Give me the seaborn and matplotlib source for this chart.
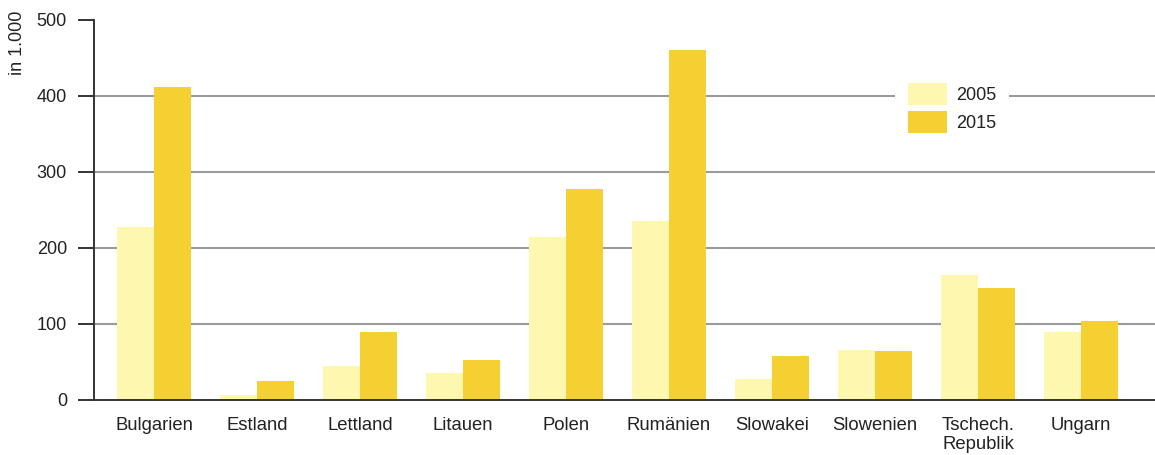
import matplotlib
matplotlib.use("Agg")
import matplotlib.pyplot as plt
import seaborn as sns
import pandas as pd

countries = ["Bulgarien", "Estland", "Lettland", "Litauen", "Polen", "Rumänien",
             "Slowakei", "Slowenien", "Tschech.\nRepublik", "Ungarn"]
values_2005 = [228, 7, 45, 35, 215, 236, 27, 66, 164, 89]
values_2015 = [412, 25, 89, 52, 277, 461, 58, 64, 148, 104]
years = ["2005", "2015"]
yticks = [0, 100, 200, 300, 400, 500]
ylabel = "in 1.000"

colors = ["#FEF7B0", "#F4D033"]

df = pd.DataFrame({
    "Land": countries * 2,
    "Wert": values_2005 + values_2015,
    "Jahr": [years[0]] * len(countries) + [years[1]] * len(countries),
})

sns.set_style("white")
plt.rcParams["font.family"] = ["Liberation Sans", "DejaVu Sans"]

fig = plt.figure(figsize=(11.55, 4.55), dpi=100)
ax = fig.add_axes([94 / 1155, 1 - 400 / 455, 1 - 94 / 1155, 380 / 455])

sns.barplot(data=df, x="Land", y="Wert", hue="Jahr", palette=colors,
            width=0.72, saturation=1, errorbar=None, ax=ax, zorder=2,
            linewidth=0)

ax.set_ylim(0, 500)
ax.set_xlim(-0.583, 9.718)
ax.set_yticks(yticks)
ax.set_yticklabels([str(v) for v in yticks], fontsize=13, color="#222222")
ax.set_xlabel("")
ax.set_ylabel("")

ax.yaxis.grid(True, color="#9a9a9a", linewidth=1.5, zorder=0)
ax.set_axisbelow(True)
gl = ax.get_ygridlines()
gl[-1].set_visible(False)
gl[0].set_visible(False)

for s in ["top", "right"]:
    ax.spines[s].set_visible(False)
ax.spines["left"].set_color("#333333")
ax.spines["left"].set_linewidth(1.4)
ax.spines["bottom"].set_color("#333333")
ax.spines["bottom"].set_linewidth(1.4)
ax.spines["bottom"].set_zorder(3)

ax.tick_params(axis="y", direction="out", length=11.5, width=1.4,
               color="#333333", pad=8, left=True)
ax.tick_params(axis="x", length=0, pad=12, labelsize=13.3, labelcolor="#222222")
for lab in ax.get_xticklabels():
    lab.set_linespacing(1.15)

fig.text(17 / 1155, 1 - 11 / 455, ylabel, rotation=90, ha="center", va="top",
         fontsize=13, color="#222222")

handles, labels = ax.get_legend_handles_labels()
leg = ax.legend(handles, labels, loc="upper left",
                bbox_to_anchor=(895 / 1155, 1 - 70 / 455),
                bbox_transform=fig.transFigure, borderaxespad=0,
                frameon=True, facecolor="white", edgecolor="white", framealpha=1,
                fancybox=False, fontsize=13, handlelength=2.2, handleheight=1.5,
                handletextpad=0.5, labelspacing=0.35, borderpad=0.7)
leg.get_frame().set_linewidth(0)
for t in leg.get_texts():
    t.set_color("#222222")

fig.savefig("out.png", dpi=100)
